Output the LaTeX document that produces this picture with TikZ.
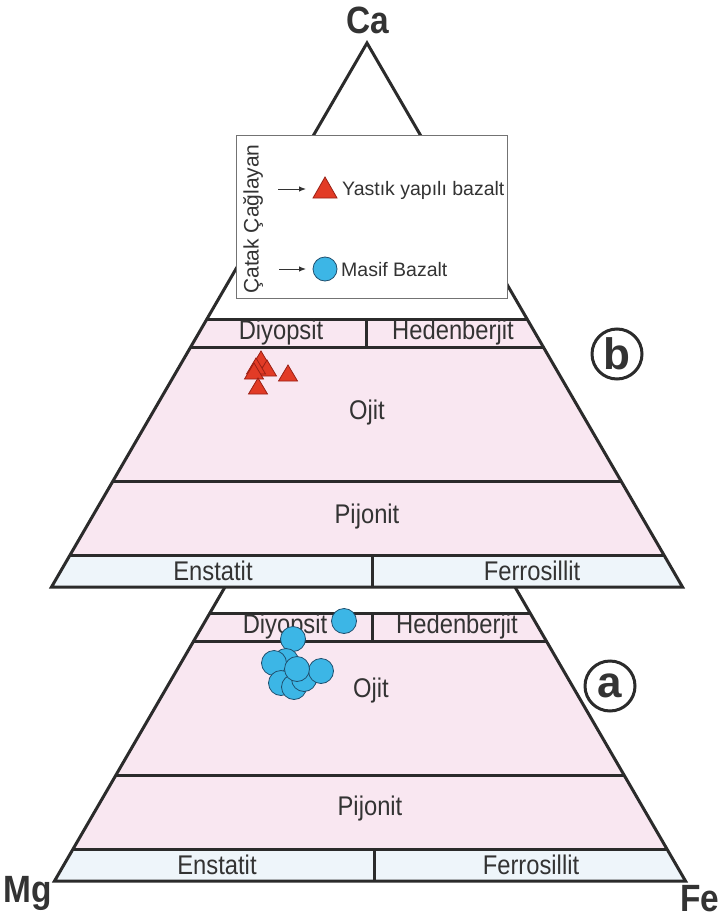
\documentclass[tikz,border=0pt]{standalone}
\usepackage{fontspec}
\setmainfont{Liberation Sans}
\newfontfamily\bandfont[FakeStretch=0.88]{Liberation Sans}
\newfontfamily\cornerfont[FakeStretch=0.88]{Liberation Sans}
\usetikzlibrary{arrows.meta}
\definecolor{pinkfill}{HTML}{F9E7F1}
\definecolor{bluefill}{HTML}{EEF5FA}
\definecolor{edgecol}{HTML}{2B2B2B}
\definecolor{tricol}{HTML}{E23B26}
\definecolor{tribord}{HTML}{9A2015}
\definecolor{circcol}{HTML}{3CB6E6}
\definecolor{circbord}{HTML}{1F4F6E}
\definecolor{txt}{HTML}{333333}
\begin{document}
\begin{tikzpicture}[x=1pt,y=-1pt,line join=miter,
  edgeline/.style={draw=edgecol,line width=3pt},
  pinkband/.style={fill=pinkfill},
  blueband/.style={fill=bluefill},
  bandlabel/.style={font=\bandfont\fontsize{27}{27}\selectfont,text=txt,inner sep=0pt},
  cornerlabel/.style={font=\cornerfont\fontsize{38}{38}\bfseries\selectfont,text=txt,inner sep=0pt},
  legtext/.style={font=\fontsize{19.5}{19.5}\selectfont,text=txt,inner sep=0pt,anchor=west},
  legarrow/.style={-{Latex[length=7pt,width=5.5pt]},line width=1pt,draw=txt},
  trimark/.style={fill=tricol,draw=tribord,line width=0.8pt},
  circmark/.style={fill=circcol,draw=circbord,line width=0.8pt},
  panelmark/.style={circle,draw=edgecol,line width=3pt,minimum size=50pt,inner sep=0pt,
    font=\fontsize{44}{44}\bfseries\selectfont,text=txt}]
\useasboundingbox (0,0) rectangle (719,920);
\fill[white] (0,0) rectangle (719,920);

% ---------- lower diagram (a) ----------
\fill[pinkband] (209.9,613) -- (530.1,613) -- (624,775) -- (116,775) -- cycle;
\fill[blueband] (73.1,849) -- (666.9,849) -- (685.5,881) -- (54.5,881) -- cycle;
\fill[pinkband] (116,775) -- (624,775) -- (666.9,849) -- (73.1,849) -- cycle;
\draw[edgeline] (225,587) -- (54.5,881) -- (685.5,881) -- (515,587);
\draw[edgeline] (209.9,613) -- (530.1,613);
\draw[edgeline] (193.7,641) -- (546.3,641);
\draw[edgeline] (116,775) -- (624,775);
\draw[edgeline] (73.1,849) -- (666.9,849);
\draw[edgeline] (372,613) -- (372,641);
\draw[edgeline] (374,849) -- (374,881);

% ---------- upper diagram (b) ----------
\fill[pinkband] (206.9,319) -- (527.1,319) -- (663.9,555) -- (70.1,555) -- cycle;
\fill[blueband] (70.1,555) -- (663.9,555) -- (682.5,587) -- (51.5,587) -- cycle;
\draw[edgeline] (367,43) -- (51.5,587) -- (682.5,587) -- cycle;
\draw[edgeline] (206.9,319) -- (527.1,319);
\draw[edgeline] (190.7,347) -- (543.3,347);
\draw[edgeline] (113,481) -- (621,481);
\draw[edgeline] (70.1,555) -- (663.9,555);
\draw[edgeline] (366,319) -- (366,347);
\draw[edgeline] (372,555) -- (372,587);

% ---------- legend ----------
\draw[fill=white,draw=black!55,line width=1pt] (236,136) rectangle (507,298);
\node[font=\fontsize{21}{21}\selectfont,text=txt,inner sep=0pt,rotate=90] (legtitle) at (253,219) {Çatak Çağlayan};
\coordinate (a1s) at (278,189);
\coordinate (a1e) at (306,189);
\coordinate (a2s) at (279,269);
\coordinate (a2e) at (306,269);
\draw[legarrow] (a1s) -- (a1e);
\draw[legarrow] (a2s) -- (a2e);
\draw[trimark] (325,177) -- (337,198) -- (313,198) -- cycle;
\draw[circmark] (325,269) circle[radius=12];
\node[legtext] (legtri) at (342,190) {Yastık yapılı bazalt};
\node[legtext] (legcirc) at (341,270) {Masif Bazalt};

% ---------- band labels ----------
\node[bandlabel] (bdiy) at (281,333) {Diyopsit};
\node[bandlabel] (bhed) at (453,333) {Hedenberjit};
\node[bandlabel] (boji) at (367,413) {Ojit};
\node[bandlabel] (bpij) at (367,517) {Pijonit};
\node[bandlabel] (bens) at (213,571) {Enstatit};
\node[bandlabel] (bfer) at (532,571) {Ferrosillit};

\node[bandlabel] (adiy) at (285,627) {Diyopsit};
\node[bandlabel] (ahed) at (457,627) {Hedenberjit};
\node[bandlabel] (aoji) at (371,691) {Ojit};
\node[bandlabel] (apij) at (370,809) {Pijonit};
\node[bandlabel] (aens) at (217,865) {Enstatit};
\node[bandlabel] (afer) at (531,865) {Ferrosillit};

% ---------- data: triangles (b) ----------
\foreach \px/\py in {261/351, 267/360, 256/358, 254/363, 288/365, 258/378}
  \draw[trimark] (\px,\py) -- ++(9.5,16) -- ++(-19,0) -- cycle;

% ---------- data: circles (a) ----------
\foreach \px/\py in {344/621, 293/639, 286/661, 274/663, 281/683, 294/687, 304/679, 321/671, 297/669}
  \draw[circmark] (\px,\py) circle[radius=12.5];

% ---------- corner labels ----------
\node[cornerlabel] (ca) at (368,20) {Ca};
\node[cornerlabel] (mg) at (28,893) {Mg};
\node[cornerlabel] (fe) at (700,899) {Fe};

% ---------- panel markers ----------
\node[panelmark] (pb) at (617,354) {b};
\node[panelmark] (pa) at (610,686) {a};
\end{tikzpicture}
\end{document}
